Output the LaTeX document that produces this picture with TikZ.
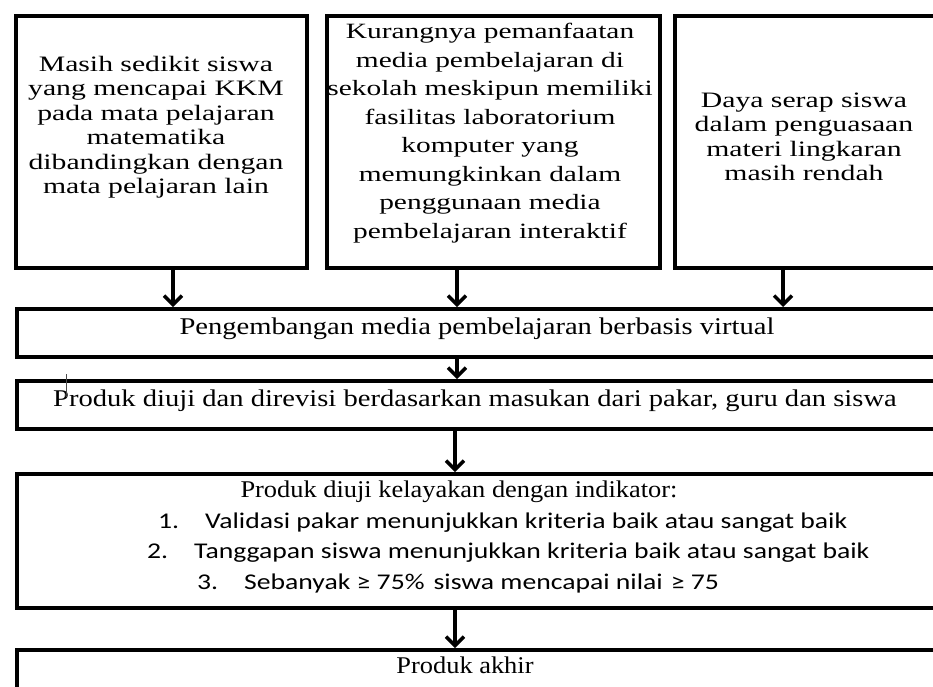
\documentclass[tikz,border=0pt]{standalone}
\usepackage{fontspec}
\setmainfont{Liberation Serif}
\newfontfamily\topfont[FakeStretch=1.35]{Liberation Serif}
\newfontfamily\lowfont[FakeStretch=1.19]{Liberation Serif}
\newfontfamily\midfont[FakeStretch=1.1]{Liberation Serif}
\newfontfamily\calfont[FakeStretch=1.23]{Carlito}
\usetikzlibrary{arrows.meta}
\tikzset{
  box/.style={draw=black, line width=4pt, rectangle, inner sep=0pt},
  toptext/.style={align=center, inner sep=0pt, font=\topfont\fontsize{22}{24.5}\selectfont},
  lowtext/.style={inner sep=0pt, font=\lowfont\fontsize{24}{26}\selectfont},
  midtext/.style={inner sep=0pt, font=\midfont\fontsize{24}{26}\selectfont},
  caltext/.style={inner sep=0pt, anchor=west, font=\calfont\fontsize{22.5}{26}\selectfont},
  arr/.style={line width=3.5pt, -{Straight Barb[length=9pt,width=18pt]}}
}
\begin{document}
\begin{tikzpicture}[x=1pt,y=-1pt]
\useasboundingbox (0,0) rectangle (933,686);
\clip (0,0) rectangle (933,686);
% boxes (line centres)
\node[box, minimum width=291pt, minimum height=252pt, anchor=north west] (b1) at (14,14) {};
\node[box, minimum width=333pt, minimum height=252pt, anchor=north west] (b2) at (325,14) {};
\node[box, minimum width=267pt, minimum height=252pt, anchor=north west] (b3) at (673,14) {};
\node[box, minimum width=930pt, minimum height=48pt, anchor=north west] (b4) at (15,307) {};
\node[box, minimum width=930pt, minimum height=48pt, anchor=north west] (b5) at (15,379) {};
\node[box, minimum width=930pt, minimum height=134pt, anchor=north west] (b6) at (15,472) {};
\node[box, minimum width=930pt, minimum height=60pt, anchor=north west] (b7) at (15,648) {};
% texts
\node[toptext] (t1) at (156,127) {Masih sedikit siswa\\yang mencapai KKM\\pada mata pelajaran\\matematika\\dibandingkan dengan\\mata pelajaran lain};
\node[toptext, font=\topfont\fontsize{21.8}{28.5}\selectfont] (t2) at (490,133) {Kurangnya pemanfaatan\\media pembelajaran di\\sekolah meskipun memiliki\\fasilitas laboratorium\\komputer yang\\memungkinkan dalam\\penggunaan media\\pembelajaran interaktif};
\node[toptext] (t3) at (804,137) {Daya serap siswa\\dalam penguasaan\\materi lingkaran\\masih rendah};
\node[lowtext] (t4) at (477,329) {Pengembangan media pembelajaran berbasis virtual};
\node[lowtext] (t5) at (475,401) {Produk diuji dan direvisi berdasarkan masukan dari pakar, guru dan siswa};
\node[midtext] (t6) at (459,492) {Produk diuji kelayakan dengan indikator:};
\node[caltext] (l1) at (158,523) {1.\hspace{26pt}Validasi pakar menunjukkan kriteria baik atau sangat baik};
\node[caltext] (l2) at (147,553) {2.\hspace{26pt}Tanggapan siswa menunjukkan kriteria baik atau sangat baik};
\node[caltext] (l3) at (197,583) {3.\hspace{26pt}Sebanyak ≥ 75\%\hspace{9pt}siswa mencapai nilai\hspace{8pt}≥ 75};
\node[midtext] (t7) at (465,665) {Produk akhir};
% cursor mark
\draw[line width=0.8pt, black!70] (66,374) -- (66,397);
\fill[black!80] (66,395) circle (1.5pt);
% arrow positions
\coordinate (xa) at (173,0);
\coordinate (xb) at (457,0);
\coordinate (xc) at (783,0);
\coordinate (xd) at (455,0);
\draw[arr] (b1.south -| xa) -- (b4.north -| xa);
\draw[arr] (b2.south -| xb) -- (b4.north -| xb);
\draw[arr] (b3.south -| xc) -- (b4.north -| xc);
\draw[arr] (b4.south -| xb) -- (b5.north -| xb);
\draw[arr] (b5.south -| xd) -- (b6.north -| xd);
\draw[arr] (b6.south -| xd) -- (b7.north -| xd);
\end{tikzpicture}
\end{document}
